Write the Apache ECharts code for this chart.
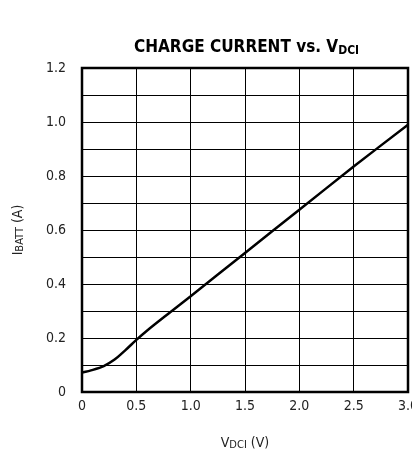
<!DOCTYPE html>
<html><head><meta charset="utf-8">
<script src="https://cdn.jsdelivr.net/npm/echarts@6/dist/echarts.min.js"></script>
<style>html,body{margin:0;padding:0;background:#fff}#c{width:412px;height:455px}</style>
</head><body><div id="c"></div>
<script>
const vdci = [0, 0.1, 0.2, 0.3, 0.4, 0.5, 0.6, 0.8, 1.0, 1.5, 2.0, 2.5, 3.0];
const ibatt = [0.072, 0.082, 0.096, 0.12, 0.155, 0.193, 0.228, 0.292, 0.355, 0.515, 0.675, 0.835, 0.99];
const xTicks = ['0', '0.5', '1.0', '1.5', '2.0', '2.5', '3.0'];
const yTicks = ['0', '0.2', '0.4', '0.6', '0.8', '1.0', '1.2'];
const FONT = '"Liberation Sans Narrow", "DejaVu Sans Condensed", "Liberation Sans", sans-serif';
const chart = echarts.init(document.getElementById('c'));
chart.setOption({
  animation: false,
  backgroundColor: '#fff',
  title: {
    text: '{a|CHARGE CURRENT vs. V}{s|DCI}',
    left: 129, top: 33,
    textStyle: { rich: {
      a: { fontFamily: FONT, fontWeight: 'bold', fontSize: 17, color: '#000' },
      s: { fontFamily: FONT, fontWeight: 'bold', fontSize: 12, color: '#000', verticalAlign: 'bottom', padding: [7, 0, 0, 0] }
    } }
  },
  grid: { left: 82, right: 4, top: 68, bottom: 63, show: true, borderColor: '#000', borderWidth: 2.5,
    backgroundColor: 'transparent', containLabel: false, outerBoundsMode: 'none' },
  xAxis: {
    type: 'value', min: 0, max: 3, interval: 0.5,
    axisLine: { show: false }, axisTick: { show: false },
    splitLine: { show: true, lineStyle: { color: '#000', width: 1 } },
    axisLabel: { margin: 7, fontFamily: FONT, fontSize: 14, color: '#222', hideOverlap: false,
      formatter: v => xTicks[Math.round(v * 2)] },
    name: '{a|V}{s|DCI}{a| (V)}', nameLocation: 'middle', nameGap: 43,
    nameTextStyle: { rich: {
      a: { fontFamily: FONT, fontSize: 14, color: '#222' },
      s: { fontFamily: FONT, fontSize: 11, color: '#222', verticalAlign: 'bottom', padding: [5, 0, 0, 0] }
    } }
  },
  yAxis: {
    type: 'value', min: 0, max: 1.2, interval: 0.1,
    axisLine: { show: false }, axisTick: { show: false },
    splitLine: { show: true, lineStyle: { color: '#000', width: 1 } },
    axisLabel: { margin: 16, fontFamily: FONT, fontSize: 14, color: '#222',
      formatter: v => { const k = Math.round(v * 10); return k % 2 === 0 ? yTicks[k / 2] : ''; } },
    name: '{a|I}{s|BATT}{a| (A)}', nameLocation: 'middle', nameGap: 56, nameRotate: 90,
    nameTextStyle: { rich: {
      a: { fontFamily: FONT, fontSize: 14, color: '#222' },
      s: { fontFamily: FONT, fontSize: 11, color: '#222', verticalAlign: 'bottom', padding: [5, 0, 0, 0] }
    } }
  },
  series: [{
    type: 'line', data: vdci.map((x, i) => [x, ibatt[i]]),
    smooth: 0.3, symbol: 'none',
    lineStyle: { color: '#000', width: 2.5 }
  }]
});
</script></body></html>
